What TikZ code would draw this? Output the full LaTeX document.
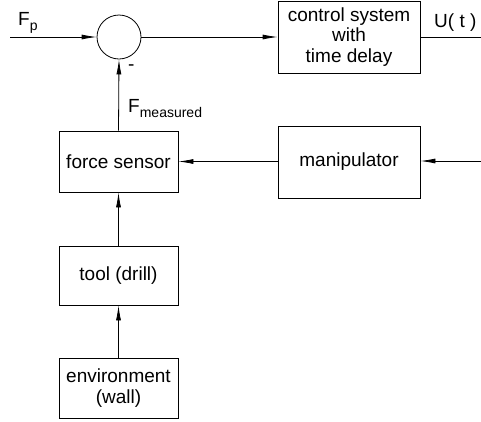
\documentclass[tikz,border=0pt]{standalone}
\usepackage{fontspec}
\setmainfont{Liberation Sans}
\usetikzlibrary{arrows.meta}
\begin{document}
\begin{tikzpicture}[x=1pt,y=-1pt,
  blk/.style={draw, line width=0.8pt, inner sep=0pt, align=center, font=\fontsize{19}{20.5}\selectfont},
  lbl/.style={inner sep=0pt, font=\fontsize{19}{20}\selectfont},
  conn/.style={line width=0.8pt, -{Latex[length=15pt,width=5pt]}}]
\useasboundingbox (0,0) rectangle (481,421);
\node[draw, line width=0.8pt, circle, minimum size=44pt, inner sep=0pt] (sum) at (119,37) {};
\node[blk, minimum width=142pt, minimum height=72pt] (ctrl) at (349,37) {control system\\with\\time delay};
\node[blk, minimum width=119pt, minimum height=61pt] (fs) at (118.5,161.5) {force sensor};
\node[blk, minimum width=142pt, minimum height=72pt] (man) at (349,162) {manipulator};
\node[blk, minimum width=119pt, minimum height=59pt] (tool) at (118.5,275.5) {tool (drill)};
\node[blk, minimum width=119pt, minimum height=60pt] (env) at (118.5,388) {environment\\(wall)};
\coordinate (in) at (10,37);
\coordinate (out) at (481,37);
\coordinate (minr) at (481,161);
\draw[conn] (in) -- (sum.west);
\draw[conn] (sum.east) -- (ctrl.west);
\draw[line width=0.8pt] (ctrl.east) -- (out);
\draw[conn] (minr) -- (man.east |- minr);
\draw[conn] (man.west |- fs.east) -- (fs.east);
\draw[conn] (fs.north) -- (sum.south);
\draw[conn] (tool.north) -- (fs.south);
\draw[conn] (env.north) -- (tool.south);
\node[lbl, anchor=base west] (fp) at (18,25) {F\raisebox{-5pt}{\fontsize{14}{15}\selectfont p}};
\node[lbl, anchor=base west] (ut) at (434,27) {U( t )};
\node[lbl, anchor=base west] (minus) at (128,70) {-};
\node[lbl, anchor=base west] (fm) at (128,112) {F\raisebox{-5.5pt}{\fontsize{14}{15}\selectfont measured}};
\end{tikzpicture}
\end{document}
